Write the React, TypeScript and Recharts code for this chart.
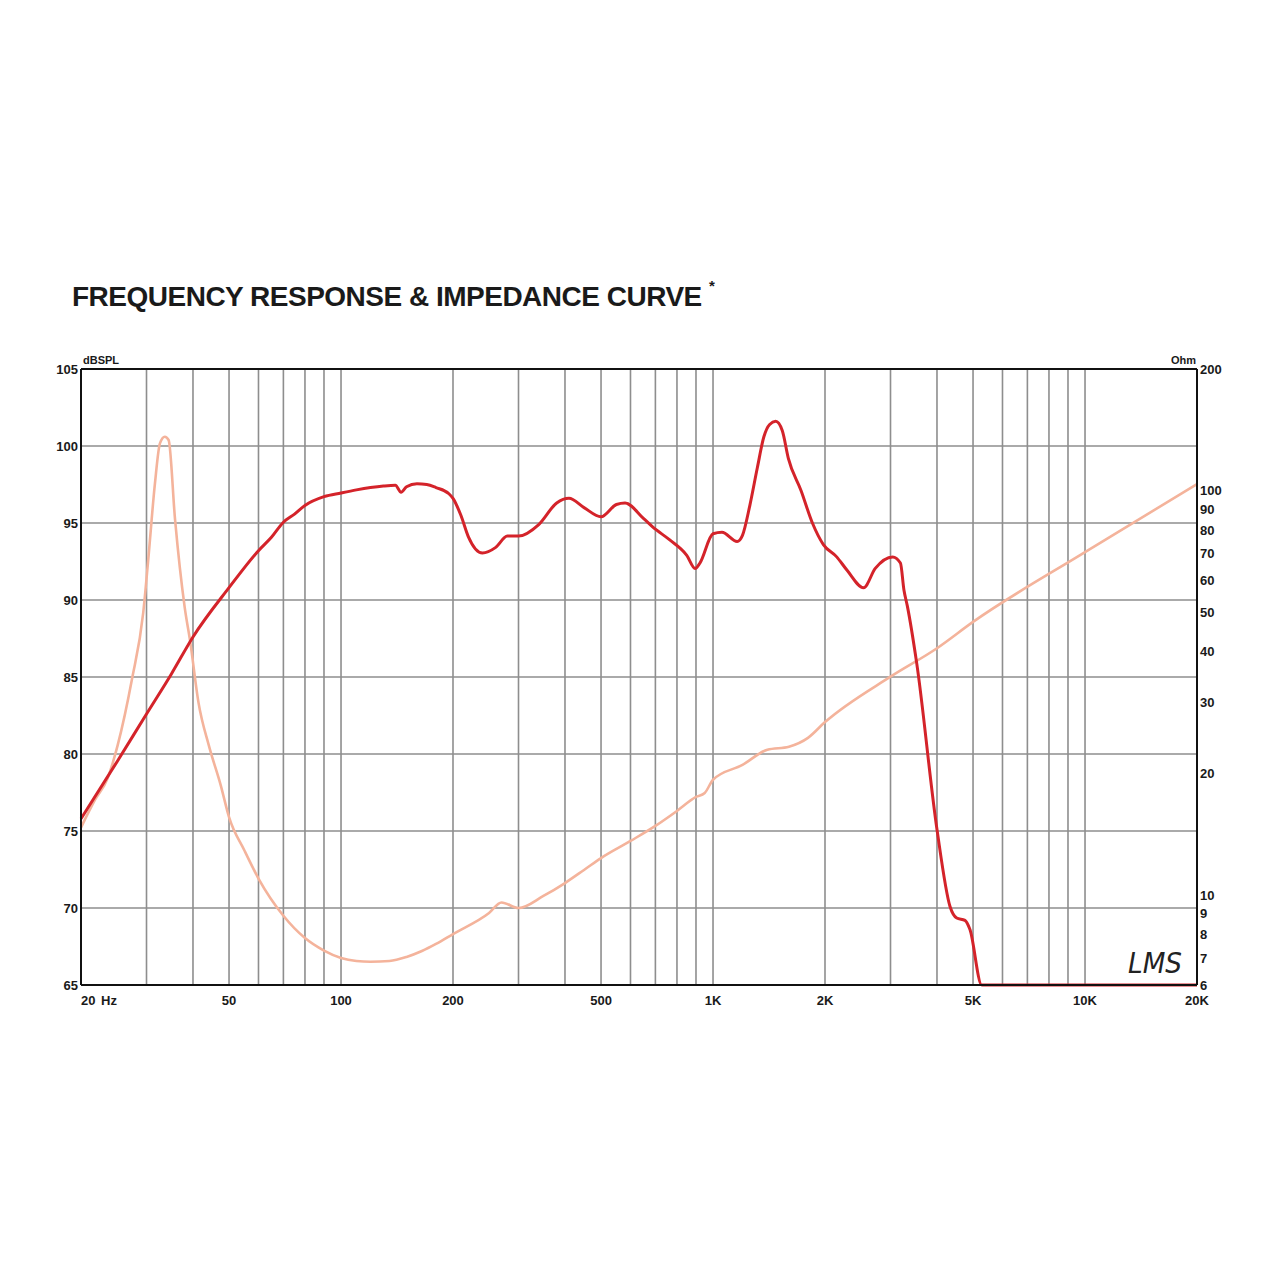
import React from 'react';
import { LineChart, Line, XAxis, YAxis, CartesianGrid, ReferenceLine } from 'recharts';

// Frequency response (dB SPL)
const splFreq = [20, 25, 30, 35, 40, 50, 60, 65, 70, 75, 80, 90, 100, 110, 120, 130, 140, 145, 150, 160, 170, 180, 195, 200, 210, 220, 240, 260, 280, 300, 340, 380, 410, 450, 500, 550, 580, 650, 688, 765, 850, 895, 922, 1000, 1057, 1161, 1200, 1255, 1316, 1370, 1420, 1474, 1535, 1594, 1725, 1850, 1980, 2150, 2290, 2540, 2730, 3040, 3190, 3260, 3330, 3528, 4000, 4336, 4520, 4757, 4906, 5277, 10000, 20000];
const splDb = [75.8, 79.5, 82.6, 85.2, 87.6, 90.8, 93.2, 94.07, 95.05, 95.58, 96.14, 96.71, 96.95, 97.15, 97.3, 97.4, 97.45, 97.0, 97.35, 97.55, 97.5, 97.3, 96.9, 96.6, 95.5, 94.1, 93.05, 93.4, 94.15, 94.15, 94.9, 96.3, 96.6, 96.0, 95.4, 96.2, 96.3, 95.3, 94.75, 93.9, 92.9, 92.05, 92.4, 94.3, 94.4, 93.8, 94.2, 96.1, 98.6, 100.6, 101.4, 101.6, 101.0, 99.2, 97.1, 95.0, 93.6, 92.8, 91.95, 90.8, 92.05, 92.8, 92.4, 90.65, 89.6, 85.9, 75.1, 70.1, 69.35, 69.2, 68.6, 65, 65, 65];

// Impedance (Ohm)
const impFreq = [20, 21.8, 23.6, 25.1, 27.4, 29.4, 30.3, 31.6, 32.6, 33.6, 34.4, 35.8, 38, 39.3, 41.4, 44.1, 47.5, 50, 55, 60, 70, 80, 90, 100, 110, 120, 135, 150, 165, 180, 200, 250, 270, 300, 350, 400, 450, 500, 600, 700, 800, 900, 950, 1000, 1200, 1400, 1600, 1800, 2000, 3000, 4000, 5000, 10000, 20000];
const impOhm = [14.7, 17.2, 19.5, 23.5, 34.1, 50, 67, 104, 131, 136, 133.5, 84.8, 51.5, 42.5, 29.9, 23.5, 18.7, 15.6, 12.9, 11.0, 8.9, 7.84, 7.3, 7.0, 6.88, 6.85, 6.88, 7.04, 7.28, 7.58, 8.02, 9.04, 9.6, 9.3, 9.96, 10.72, 11.55, 12.36, 13.62, 14.84, 16.16, 17.5, 17.9, 19.3, 21.0, 22.9, 23.3, 24.5, 26.8, 34.7, 40.8, 47.4, 70.5, 103.9];

const xGridTicks = [20, 30, 40, 50, 60, 70, 80, 90, 100, 200, 300, 400, 500, 600, 700, 800, 900, 1000, 2000, 3000, 4000, 5000, 6000, 7000, 8000, 9000, 10000, 20000];
const xTickLabels: Record<number, string> = { 20: '20', 50: '50', 100: '100', 200: '200', 500: '500', 1000: '1K', 2000: '2K', 5000: '5K', 10000: '10K', 20000: '20K' };
const dbTicks = [65, 70, 75, 80, 85, 90, 95, 100, 105];
const ohmTicks = [6, 7, 8, 9, 10, 20, 30, 40, 50, 60, 70, 80, 90, 100, 200];

const splData = splFreq.map((f, i) => ({ f, spl: splDb[i] }));
const impData = impFreq.map((f, i) => ({ f, ohm: impOhm[i] }));

const FONT = 'Arial, "Liberation Sans", Helvetica, sans-serif';

const XTick = (props: any) => {
  const { x, y, payload } = props;
  const label = xTickLabels[payload.value];
  if (!label) return null;
  if (payload.value === 20) {
    return (
      <g>
        <text x={x} y={y + 20} textAnchor="start" fontSize={13} fontWeight="bold" fontFamily={FONT} fill="#1a1a1a">20</text>
        <text x={x + 20} y={y + 20} textAnchor="start" fontSize={13} fontWeight="bold" fontFamily={FONT} fill="#1a1a1a">Hz</text>
      </g>
    );
  }
  return (
    <text x={x} y={y + 20} textAnchor="middle" fontSize={13} fontWeight="bold" fontFamily={FONT} fill="#1a1a1a">{label}</text>
  );
};

export default function App() {
  return (
    <div style={{ position: 'absolute', left: 0, top: 0, width: 1280, height: 1280, background: '#fff' }}>
      <LineChart width={1280} height={1280} margin={{ top: 369, right: 33, bottom: 265, left: 31 }}>
        <CartesianGrid stroke="#8e8e8e" strokeWidth={1.6} yAxisId="left" />
        <XAxis
          dataKey="f"
          type="number"
          scale="log"
          domain={[20, 20000]}
          ticks={xGridTicks}
          interval={0}
          height={30}
          tickSize={0}
          tickMargin={0}
          tick={<XTick />}
          axisLine={{ stroke: '#111', strokeWidth: 2 }}
          tickLine={false}
          allowDuplicatedCategory={false}
        />
        <YAxis
          yAxisId="left"
          orientation="left"
          type="number"
          domain={[65, 105]}
          ticks={dbTicks}
          interval={0}
          width={50}
          tickSize={0}
          tickMargin={3}
          tickLine={false}
          axisLine={{ stroke: '#111', strokeWidth: 2 }}
          tick={{ fontSize: 13, fontWeight: 'bold', fontFamily: FONT, fill: '#1a1a1a' }}
        />
        <YAxis
          yAxisId="right"
          orientation="right"
          type="number"
          scale="log"
          domain={[6, 200]}
          ticks={ohmTicks}
          interval={0}
          width={50}
          tickSize={0}
          tickMargin={3}
          tickLine={false}
          axisLine={{ stroke: '#111', strokeWidth: 2 }}
          tick={{ fontSize: 13, fontWeight: 'bold', fontFamily: FONT, fill: '#1a1a1a' }}
        />
        <ReferenceLine yAxisId="left" y={105} stroke="#111" strokeWidth={2} />
        <Line
          data={impData}
          dataKey="ohm"
          yAxisId="right"
          type="monotone"
          stroke="#f4b39b"
          strokeWidth={2.6}
          dot={false}
          isAnimationActive={false}
        />
        <Line
          data={splData}
          dataKey="spl"
          yAxisId="left"
          type="monotone"
          stroke="#d4232a"
          strokeWidth={3}
          dot={false}
          isAnimationActive={false}
        />
      </LineChart>
      <svg width={1280} height={1280} style={{ position: 'absolute', left: 0, top: 0, pointerEvents: 'none' }}>
        <text x={72} y={306} fontSize={28} fontWeight="bold" letterSpacing={-0.5} fontFamily={FONT} fill="#1a1a1a">FREQUENCY RESPONSE &amp; IMPEDANCE CURVE</text>
        <text x={709} y={291} fontSize={15} fontWeight="bold" fontFamily={FONT} fill="#1a1a1a">*</text>
        <text x={83} y={364} fontSize={11} fontWeight="bold" fontFamily={FONT} fill="#1a1a1a">dBSPL</text>
        <text x={1196} y={364} fontSize={11} fontWeight="bold" fontFamily={FONT} fill="#1a1a1a" textAnchor="end">Ohm</text>
        <text x={1128} y={973} fontSize={28} fontStyle="italic" fontFamily='"DejaVu Sans", sans-serif' fontWeight={300} fill="#222" textLength={54} lengthAdjust="spacingAndGlyphs">LMS</text>
      </svg>
    </div>
  );
}
